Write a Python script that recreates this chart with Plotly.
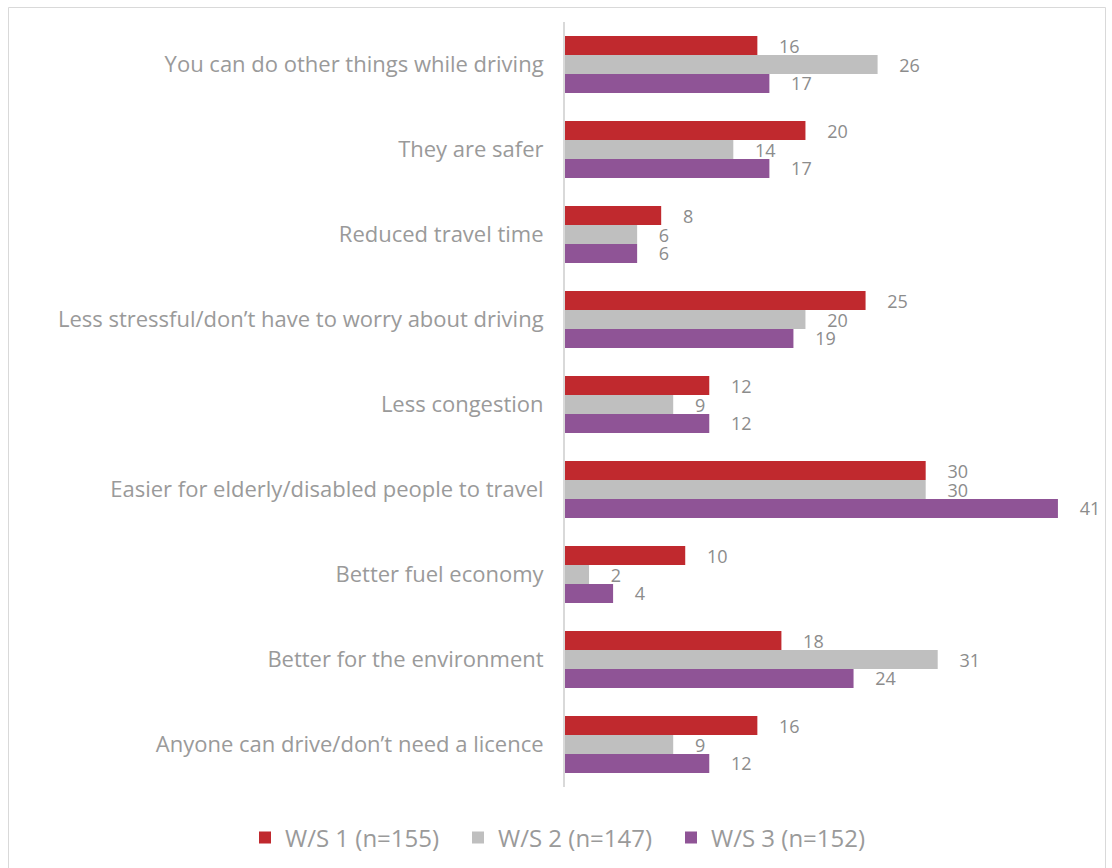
import plotly.graph_objects as go

categories = [
    "You can do other things while driving",
    "They are safer",
    "Reduced travel time",
    "Less stressful/don\u2019t have to worry about driving",
    "Less congestion",
    "Easier for elderly/disabled people to travel",
    "Better fuel economy",
    "Better for the environment",
    "Anyone can drive/don\u2019t need a licence",
]
ws1 = [16, 20, 8, 25, 12, 30, 10, 18, 16]
ws2 = [26, 14, 6, 20, 9, 30, 2, 31, 9]
ws3 = [17, 17, 6, 19, 12, 41, 4, 24, 12]
series_names = ["W/S 1 (n=155)", "W/S 2 (n=147)", "W/S 3 (n=152)"]
colors = ["#C0292E", "#BFBFBF", "#8F5496"]

FONT = "'Open Sans', Lato, sans-serif"
TXT = "#8C8C8C"

fig = go.Figure()
for name, vals, col in zip(series_names, [ws1, ws2, ws3], colors):
    fig.add_trace(go.Bar(
        y=categories, x=vals, name=name, orientation="h",
        marker=dict(color=col, line=dict(width=0)),
        text=["\u00a0\u00a0\u00a0\u00a0" + str(v) for v in vals],
        textposition="outside", cliponaxis=False, constraintext="none",
        textfont=dict(family=FONT, size=18, color=TXT),
    ))

L, R = 565, 1094
T, B = 22, 787
W = R - L
H = B - T

def px_x(p):
    return (p - L) / W

def px_y(p):
    return (B - p) / H

fig.update_layout(
    width=1112, height=868,
    margin=dict(l=L, r=1112 - R, t=T, b=868 - B, autoexpand=False),
    barmode="group", bargap=0.33, bargroupgap=0,
    plot_bgcolor="white", paper_bgcolor="white",
    font=dict(family=FONT, color=TXT),
    xaxis=dict(range=[0, 44], visible=False),
    yaxis=dict(autorange="reversed", showline=True, linecolor="#D9D9D9", linewidth=2,
               ticks="", ticklabelstandoff=15,
               tickfont=dict(family=FONT, size=22, color="#9A9A9A")),
    legend=dict(orientation="h", xref="paper", x=px_x(245), xanchor="left",
                yref="paper", y=px_y(838), yanchor="middle",
                font=dict(family=FONT, size=24, color="#9A9A9A"),
                itemwidth=30, entrywidth=168, entrywidthmode="pixels",
                traceorder="normal"),
    showlegend=True,
    shapes=[dict(type="rect", xref="paper", yref="paper",
                 x0=px_x(8.5), x1=px_x(1105.5), y0=px_y(880), y1=px_y(7.5),
                 line=dict(color="#D9D9D9", width=1), layer="below")],
)

fig.write_html("out.html")
